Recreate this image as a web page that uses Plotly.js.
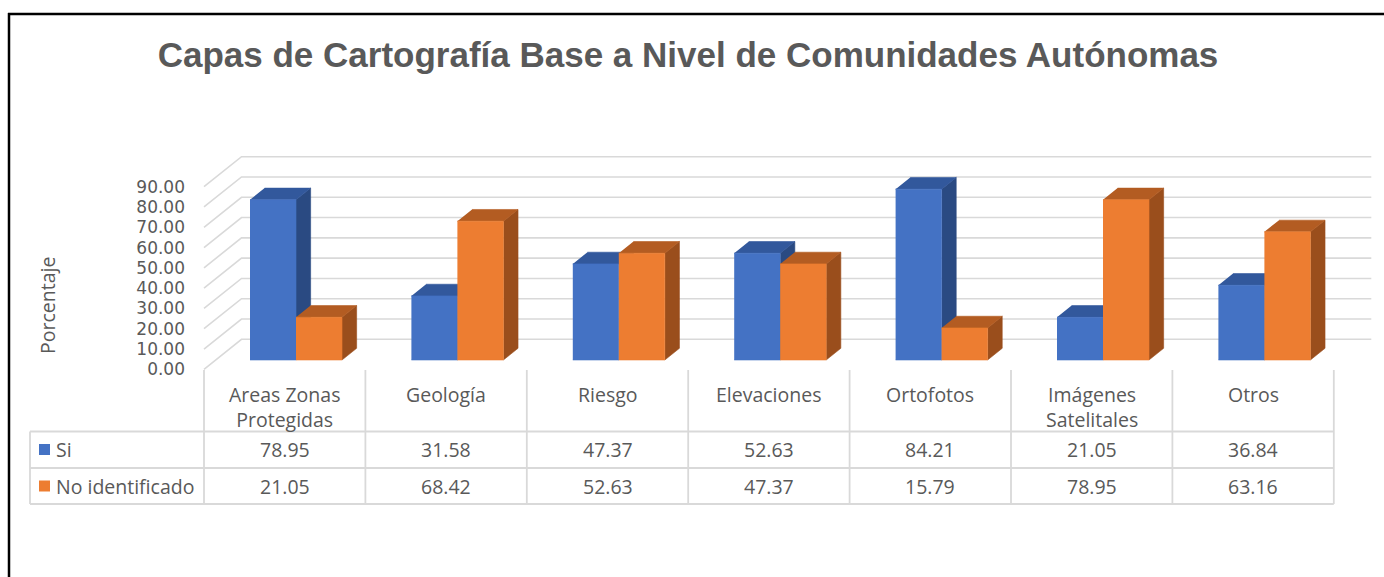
<!DOCTYPE html>
<html>
<head>
<meta charset="utf-8">
<script src="https://cdn.plot.ly/plotly-3.0.1.min.js"></script>
<style>html,body{margin:0;padding:0;background:#fff;}#chart{width:1384px;height:577px;}</style>
</head>
<body>
<div id="chart"></div>
<script>
// ---------------- DATA ----------------
const categories = ['Areas Zonas Protegidas', 'Geología', 'Riesgo', 'Elevaciones', 'Ortofotos', 'Imágenes Satelitales', 'Otros'];
const categoryLabels = ['Areas Zonas<br>Protegidas', 'Geología', 'Riesgo', 'Elevaciones', 'Ortofotos', 'Imágenes<br>Satelitales', 'Otros'];
const seriesNames = ['Si', 'No identificado'];
const siValues = [78.95, 31.58, 47.37, 52.63, 84.21, 21.05, 36.84];
const noIdValues = [21.05, 68.42, 52.63, 47.37, 15.79, 78.95, 63.16];
const yTickValues = [0, 10, 20, 30, 40, 50, 60, 70, 80, 90];
const chartTitle = 'Capas de Cartografía Base a Nivel de Comunidades Autónomas';
const yTitle = 'Porcentaje';

// ---------------- LAYOUT GEOMETRY ----------------
const W = 1384, H = 577;
const M = {l: 20, r: 0, t: 140, b: 57};
const G = {x0: 204, cw: 161.4, y0: 369.3, vs: 2.029}; // front-left floor corner, category width, value scale
const px2x = p => (p - G.x0) / G.cw - 0.5;
const py2y = p => (G.y0 - p) / G.vs;
const px2paperX = p => (p - M.l) / (W - M.l - M.r);
const py2paperY = p => (H - M.b - p) / (H - M.t - M.b);

const DX = 37.5 / G.cw, DY = 30 / G.vs;   // full depth vector in data units
const F1 = 0.31, F2 = 0.70;               // bar depth span (fraction of full depth)
const GAP = 0.213, BW = 0.285;            // bar gap and width (category units)

const colors = {
  front: ['#4472C4', '#ED7D31'],
  top:   ['#32589C', '#B35C22'],
  side:  ['#2A4A82', '#9A4E1C']
};
const textColor = '#595959';
const gridColor = '#D9D9D9';
const font = 'Open Sans, Noto Sans, sans-serif';
const fsz = 19.5;

// ---------------- BARS (pseudo-3D faces) ----------------
const series = [siValues, noIdValues];
const traces = [];
series.forEach((vals, s) => {
  const faces = {side: {x: [], y: []}, top: {x: [], y: []}, front: {x: [], y: []}};
  vals.forEach((v, i) => {
    const xl = i - 0.5 + GAP + s * BW + F1 * DX;
    const xr = xl + BW;
    const b = F1 * DY;
    const t = v + F1 * DY;
    const ddx = (F2 - F1) * DX, ddy = (F2 - F1) * DY;
    faces.side.x.push(xr, xr + ddx, xr + ddx, xr, null);
    faces.side.y.push(b, b + ddy, t + ddy, t, null);
    faces.top.x.push(xl, xr, xr + ddx, xl + ddx, null);
    faces.top.y.push(t, t, t + ddy, t + ddy, null);
    faces.front.x.push(xl, xr, xr, xl, null);
    faces.front.y.push(b, b, t, t, null);
  });
  ['side', 'top', 'front'].forEach(f => {
    traces.push({
      type: 'scatter', mode: 'lines', x: faces[f].x, y: faces[f].y,
      fill: 'toself', fillcolor: colors[f][s],
      line: {color: colors[f][s], width: 0.6},
      hoverinfo: 'skip', showlegend: false, name: seriesNames[s]
    });
  });
});

// ---------------- SHAPES ----------------
const shapes = [];
const gridEndX = (categories.length - 0.5) + DX;
yTickValues.forEach(v => {
  shapes.push({type: 'path', xref: 'x', yref: 'y', layer: 'below',
    path: `M ${-0.5} ${v} L ${-0.5 + DX} ${v + DY} L ${gridEndX} ${v + DY}`,
    line: {color: gridColor, width: 1.6}});
});
// table
const tTop = py2y(370), tHead = py2y(431.5), tRow1 = py2y(468), tBot = py2y(504);
const tLeft = px2x(30);
const tRight = categories.length - 0.5;
for (let i = 0; i <= categories.length; i++) {
  shapes.push({type: 'line', xref: 'x', yref: 'y', x0: i - 0.5, x1: i - 0.5, y0: tTop, y1: tBot,
    line: {color: gridColor, width: 1.8}});
}
shapes.push({type: 'line', xref: 'x', yref: 'y', x0: tLeft, x1: tLeft, y0: tHead, y1: tBot, line: {color: gridColor, width: 1.8}});
[tHead, tRow1, tBot].forEach(y => {
  shapes.push({type: 'line', xref: 'x', yref: 'y', x0: tLeft, x1: tRight, y0: y, y1: y, line: {color: gridColor, width: 1.8}});
});
// legend keys
const keyRows = [[444, 455], [480.5, 491.5]];
seriesNames.forEach((n, s) => {
  shapes.push({type: 'rect', xref: 'x', yref: 'y', x0: px2x(39), x1: px2x(50), y0: py2y(keyRows[s][0]), y1: py2y(keyRows[s][1]),
    fillcolor: colors.front[s], line: {width: 0}});
});
// outer frame
shapes.push({type: 'line', xref: 'paper', yref: 'paper', x0: px2paperX(9), x1: px2paperX(9), y0: py2paperY(13), y1: py2paperY(600), line: {color: '#000', width: 2.5}});
shapes.push({type: 'line', xref: 'paper', yref: 'paper', x0: px2paperX(8), x1: px2paperX(1400), y0: py2paperY(14), y1: py2paperY(14), line: {color: '#000', width: 2.5}});

// ---------------- ANNOTATIONS ----------------
const annotations = [];
categoryLabels.forEach((lab, i) => {
  annotations.push({x: i, y: py2y(379), xref: 'x', yref: 'y', text: lab, showarrow: false,
    xanchor: 'center', yanchor: 'top', font: {family: font, size: fsz, color: textColor}});
});
const rowY = [py2y(449.5), py2y(486.5)];
series.forEach((vals, s) => {
  vals.forEach((v, i) => {
    annotations.push({x: i, y: rowY[s], xref: 'x', yref: 'y', text: v.toFixed(2), showarrow: false,
      xanchor: 'center', yanchor: 'middle', font: {family: font, size: fsz, color: textColor}});
  });
  annotations.push({x: px2x(54), y: rowY[s], xref: 'x', yref: 'y', text: seriesNames[s], showarrow: false,
    xanchor: 'left', yanchor: 'middle', font: {family: font, size: fsz, color: textColor}});
});
annotations.push({x: px2x(47), y: py2y(306), xref: 'x', yref: 'y', text: yTitle, textangle: -90, showarrow: false,
  xanchor: 'center', yanchor: 'middle', font: {family: font, size: fsz, color: textColor}});

// ---------------- LAYOUT ----------------
const layout = {
  width: W, height: H, autosize: false,
  margin: M,
  paper_bgcolor: '#fff', plot_bgcolor: 'rgba(0,0,0,0)',
  title: {text: '<b>' + chartTitle + '</b>', x: 688 / W, xanchor: 'center', y: 1 - 55 / H, yanchor: 'middle',
    font: {family: 'Liberation Sans, Arial, sans-serif', size: 35, color: textColor}},
  xaxis: {range: [px2x(M.l), px2x(W - M.r)], visible: false, fixedrange: true},
  yaxis: {range: [py2y(H - M.b), py2y(M.t)], anchor: 'free', position: px2paperX(G.x0),
    tickvals: yTickValues, ticktext: yTickValues.map(v => v.toFixed(2)),
    showgrid: false, zeroline: false, showline: false, ticks: '', ticklabelstandoff: 19,
    tickfont: {family: 'DejaVu Sans, sans-serif', size: 17, color: textColor}, fixedrange: true},
  shapes: shapes,
  annotations: annotations,
  showlegend: false
};

Plotly.newPlot('chart', traces, layout, {staticPlot: true, displayModeBar: false});
</script>
</body>
</html>
